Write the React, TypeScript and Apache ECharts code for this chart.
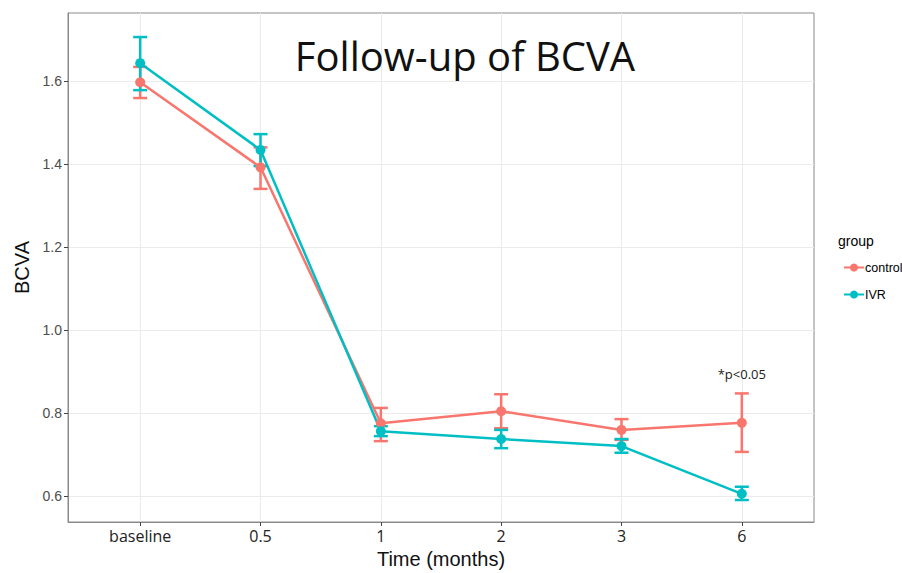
import React, { useEffect, useRef } from "react";
import * as echarts from "echarts";

const categories = ["baseline", "0.5", "1", "2", "3", "6"];
const controlMean = [1.597, 1.392, 0.775, 0.804, 0.759, 0.776];
const controlLow = [1.559, 1.34, 0.732, 0.763, 0.735, 0.706];
const controlHigh = [1.634, 1.44, 0.812, 0.845, 0.785, 0.847];
const ivrMean = [1.643, 1.434, 0.756, 0.737, 0.72, 0.605];
const ivrLow = [1.578, 1.395, 0.744, 0.715, 0.704, 0.59];
const ivrHigh = [1.706, 1.472, 0.768, 0.759, 0.737, 0.622];
const xTicks = [0, 1, 2, 3, 4, 5];
const yTicks = [0.6, 0.8, 1.0, 1.2, 1.4, 1.6];

const RED = "#F8766D";
const TEAL = "#00BFC4";

function errSeries(name: string, low: number[], high: number[], color: string) {
  return {
    type: "custom",
    name,
    data: low.map((l, i) => [i, l, high[i]]),
    encode: { x: 0, y: [1, 2] },
    z: 2,
    renderItem: (_p: any, api: any) => {
      const x = api.value(0);
      const a = api.coord([x, api.value(1)]);
      const b = api.coord([x, api.value(2)]);
      const w = 7;
      const st = { stroke: color, lineWidth: 2.5 };
      return {
        type: "group",
        children: [
          { type: "line", shape: { x1: a[0], y1: a[1], x2: b[0], y2: b[1] }, style: st },
          { type: "line", shape: { x1: a[0] - w, y1: a[1], x2: a[0] + w, y2: a[1] }, style: st },
          { type: "line", shape: { x1: b[0] - w, y1: b[1], x2: b[0] + w, y2: b[1] }, style: st },
        ],
      };
    },
  };
}

function lineSeries(name: string, mean: number[], color: string, extra: any = {}) {
  return {
    type: "line",
    name,
    data: mean.map((v, i) => [i, v]),
    symbol: "circle",
    symbolSize: 10,
    color,
    lineStyle: { width: 2.5, color },
    itemStyle: { color },
    z: 3,
    ...extra,
  };
}

export default function App() {
  const ref = useRef<HTMLDivElement>(null);
  useEffect(() => {
    document.body.style.margin = "0";
    const chart = echarts.init(ref.current!, null, { renderer: "svg" });
    chart.setOption({
      animation: false,
      backgroundColor: "#fff",
      grid: {
        left: 68,
        top: 13,
        right: 88,
        bottom: 51,
        show: true,
        borderColor: "#8a8a8a",
        borderWidth: 1,
        backgroundColor: "#fff",
        containLabel: false,
        outerBoundsMode: "none",
      },
      title: {
        text: "Follow-up of BCVA",
        left: 460,
        top: 30,
        textAlign: "center",
        textStyle: { fontFamily: "Open Sans", fontSize: 40, fontWeight: "normal", color: "#111" },
      },
      legend: {
        data: ["control", "IVR"],
        orient: "vertical",
        left: 838,
        top: 256,
        itemWidth: 20,
        itemHeight: 10,
        itemGap: 14,
        textStyle: { fontFamily: "Liberation Sans", fontSize: 12.5, color: "#000", padding: [0, 0, 0, -4] },
      },
      graphic: [
        {
          type: "text",
          left: 838,
          top: 234,
          style: { text: "group", fontFamily: "Liberation Sans", fontSize: 14, fill: "#000" },
        },
      ],
      xAxis: {
        type: "value",
        min: -0.6,
        max: 5.6,
        name: "Time (months)",
        nameLocation: "middle",
        nameGap: 27,
        nameTextStyle: { fontFamily: "Liberation Sans", fontSize: 20, color: "#111" },
        axisLine: { show: true, onZero: false, lineStyle: { color: "#8a8a8a", width: 1 } },
        axisTick: { show: true, inside: false, length: 4, lineStyle: { color: "#444", width: 1 }, customValues: xTicks },
        axisLabel: {
          customValues: xTicks,
          formatter: (v: number) => categories[Math.round(v)] ?? "",
          fontFamily: "Open Sans",
          fontSize: 16,
          color: "#222",
          margin: 6,
        },
        splitLine: { show: true, lineStyle: { color: "#ebebeb", width: 1 } },
      },
      yAxis: {
        type: "value",
        min: 0.537,
        max: 1.764,
        name: "BCVA",
        nameLocation: "middle",
        nameGap: 36,
        nameTextStyle: { fontFamily: "Liberation Sans", fontSize: 20, color: "#111" },
        axisLine: { show: true, onZero: false, lineStyle: { color: "#8a8a8a", width: 1 } },
        axisTick: { show: true, inside: false, length: 4, lineStyle: { color: "#444", width: 1 }, customValues: yTicks },
        axisLabel: {
          customValues: yTicks,
          formatter: (v: number) => v.toFixed(1),
          fontFamily: "Liberation Sans",
          fontSize: 14,
          color: "#4d4d4d",
          margin: 6,
        },
        splitLine: { show: true, lineStyle: { color: "#ebebeb", width: 1 } },
      },
      series: [
        errSeries("control-err", controlLow, controlHigh, RED),
        lineSeries("control", controlMean, RED, {
          markPoint: {
            symbol: "circle",
            symbolSize: 0,
            data: [{ coord: [5, 0.893] }],
            label: {
              show: true,
              position: "inside",
              formatter: "*p<0.05",
              fontFamily: "Open Sans",
              fontSize: 13,
              color: "#222",
            },
          },
        }),
        errSeries("IVR-err", ivrLow, ivrHigh, TEAL),
        lineSeries("IVR", ivrMean, TEAL),
      ],
    });
    return () => chart.dispose();
  }, []);
  return <div ref={ref} style={{ width: 902, height: 573 }} />;
}
